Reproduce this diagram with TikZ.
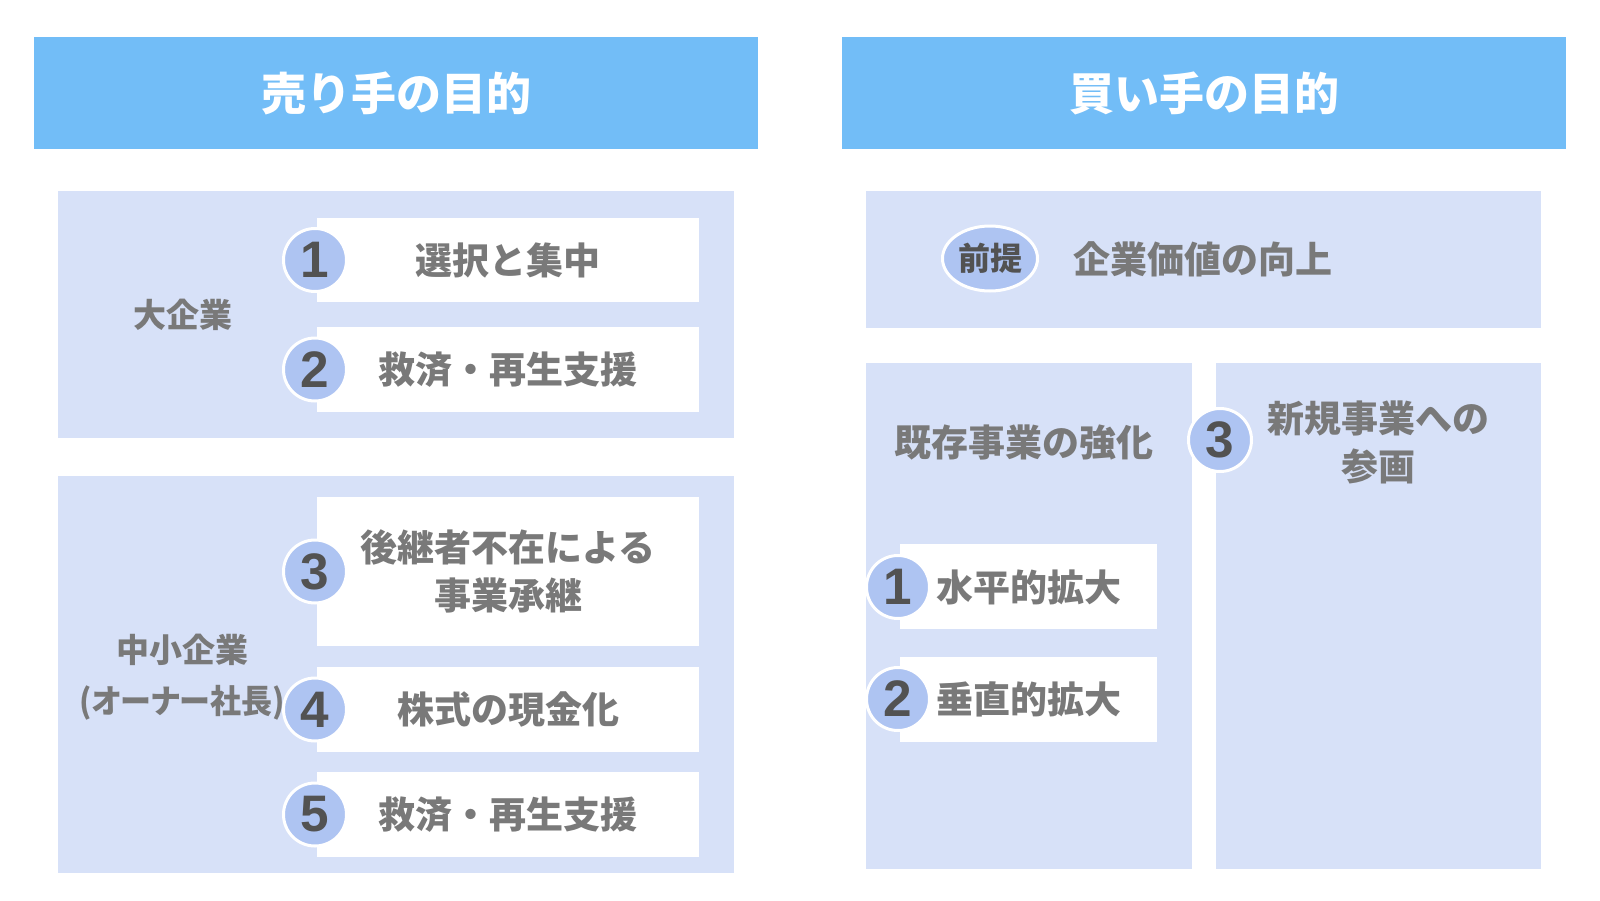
\documentclass[tikz,border=0pt]{standalone}
\usepackage{fontspec}
\usepackage{graphicx}
\setmainfont{Noto Sans CJK JP}
\newfontfamily\numfont{Liberation Sans}
\usetikzlibrary{fit,shapes.geometric}
\definecolor{hdr}{HTML}{72BDF7}
\definecolor{pnl}{HTML}{D7E1F8}
\definecolor{circ}{HTML}{AEC4F2}
\definecolor{txt}{HTML}{797979}
\definecolor{num}{HTML}{525252}
\tikzset{
  hdrbox/.style={fill=hdr, draw=none, inner sep=0pt},
  pnlbox/.style={fill=pnl, draw=none, inner sep=0pt},
  wbox/.style={fill=white, draw=none, inner sep=0pt},
  title/.style={text=white, font=\fontsize{33.75pt}{40pt}\selectfont\bfseries, inner sep=0pt},
  item/.style={text=txt, font=\fontsize{27.75pt}{36pt}\selectfont\bfseries, align=center, inner sep=0pt},
  lbl/.style={text=txt, font=\fontsize{24.75pt}{38.25pt}\selectfont\bfseries, align=center, inner sep=0pt},
  numc/.style={circle, fill=circ, draw=white, line width=2.25pt, minimum size=47.25pt, inner sep=0pt,
    text=num, font=\numfont\fontsize{38.5pt}{38.5pt}\selectfont\bfseries},
  prem/.style={ellipse, fill=circ, draw=white, line width=2.25pt, minimum width=71.25pt, minimum height=48.75pt,
    inner sep=0pt, text=num, font=\fontsize{24pt}{28pt}\selectfont\bfseries},
}
\begin{document}
\begin{tikzpicture}[x=0.75pt,y=-0.75pt]
\useasboundingbox (0,0) rectangle (1600,900);
\fill[white] (0,0) rectangle (1600,900);
% headers
\node[hdrbox, fit={(34,37) (758,149)}] (hl) {};
\node[title] (tl) at (396,93) {売り手の目的};
\node[hdrbox, fit={(842,37) (1566,149)}] (hr) {};
\node[title] (tr) at (1204,93) {買い手の目的};
% left panels
\node[pnlbox, fit={(58,191) (734,438)}] (plt) {};
\node[pnlbox, fit={(58,476) (734,873)}] (plb) {};
\node[wbox, fit={(317,218) (699,302)}] (b1) {};
\node[wbox, fit={(317,327) (699,412)}] (b2) {};
\node[wbox, fit={(317,497) (699,646)}] (b3) {};
\node[wbox, fit={(317,667) (699,752)}] (b4) {};
\node[wbox, fit={(317,772) (699,857)}] (b5) {};
\node[item] (t1) at (508,260) {選択と集中};
\node[item] (t2) at (508,369.5) {救済・再生支援};
\node[item] (t3) at (508,571.5) {後継者不在による\\事業承継};
\node[item] (t4) at (508,709.5) {株式の現金化};
\node[item] (t5) at (508,814.5) {救済・再生支援};
\node[numc] (c1) at (315,260) {1};
\node[numc] (c2) at (315,369.5) {2};
\node[numc] (c3) at (315,571.5) {3};
\node[numc] (c4) at (315,709.5) {4};
\node[numc] (c5) at (315,814.5) {5};
\node[lbl] (l1) at (183,315) {大企業};
\node[lbl] (l2) at (182,677) {中小企業\\\scalebox{0.94}[1]{\addfontfeatures{RawFeature=+palt}(オーナー社長)}};
% right panels
\node[pnlbox, fit={(866,191) (1541,328)}] (prt) {};
\node[prem] (pm) at (990,258.5) {前提};
\node[item, anchor=west] (tv) at (1073,259) {企業価値の向上};
\node[pnlbox, fit={(866,363) (1192,869)}] (prl) {};
\node[pnlbox, fit={(1216,363) (1541,869)}] (prr) {};
\node[item] (tk) at (1024,442) {既存事業の強化};
\node[item] (tn) at (1378,442) {新規事業への\\参画};
\node[numc] (c6) at (1220,440) {3};
\node[wbox, fit={(900,544) (1157,629)}] (b6) {};
\node[wbox, fit={(900,657) (1157,742)}] (b7) {};
\node[item, anchor=west] (t6) at (936,587) {水平的拡大};
\node[item, anchor=west] (t7) at (936,699) {垂直的拡大};
\node[numc] (c7) at (898,587) {1};
\node[numc] (c8) at (898,699) {2};
\end{tikzpicture}
\end{document}
